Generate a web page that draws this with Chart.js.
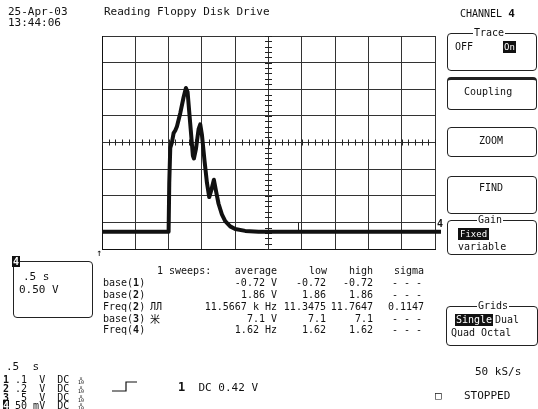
<!DOCTYPE html>
<html>
<head>
<meta charset="utf-8">
<script src="https://cdn.jsdelivr.net/npm/chart.js@4"></script>
<style>
  body { margin: 0; background: #fff; }
  #wrap { position: relative; width: 538px; height: 409px; overflow: hidden; background: #fff;
          font-family: "DejaVu Sans Mono", monospace; font-size: 11px; color: #111; }
  #scope { position: absolute; left: 0; top: 0; }
  .t { position: absolute; line-height: 12px; white-space: pre; }
  .m { font-size: 10px; }
  .r { text-align: right; }
  .box { position: absolute; border: 1px solid #222; border-radius: 4px; }
  .lbl { position: absolute; background: #fff; line-height: 12px; padding: 0 1px; font-size: 10px; }
  .inv { background: #111; color: #fff; }
  .b { font-weight: bold; }
  .x10 { position: absolute; font-size: 5px; line-height: 4px; text-align: center; }
</style>
</head>
<body>
<div id="wrap">
  <canvas id="scope" width="538" height="409"></canvas>

  <div class="t" style="left:8px;top:6px">25-Apr-03</div>
  <div class="t" style="left:8px;top:17px">13:44:06</div>
  <div class="t" style="left:104px;top:6px">Reading Floppy Disk Drive</div>
  <div class="t m" style="left:460px;top:8px">CHANNEL <span class="b" style="font-size:11px">4</span></div>

  <div class="box" style="left:447px;top:33px;width:88px;height:36px"></div>
  <div class="lbl" style="left:473px;top:27px">Trace</div>
  <div class="t m" style="left:455px;top:41px">OFF</div>
  <div class="t inv" style="left:503px;top:41px;font-size:9px;padding:0 1px">On</div>

  <div class="box" style="left:447px;top:77px;width:88px;height:29px;border-top-width:3px"></div>
  <div class="t m" style="left:464px;top:86px">Coupling</div>

  <div class="box" style="left:447px;top:127px;width:88px;height:28px"></div>
  <div class="t m" style="left:479px;top:135px">ZOOM</div>

  <div class="box" style="left:447px;top:176px;width:88px;height:36px"></div>
  <div class="t m" style="left:479px;top:182px">FIND</div>

  <div class="box" style="left:447px;top:220px;width:88px;height:33px"></div>
  <div class="lbl" style="left:477px;top:214px">Gain</div>
  <div class="t inv" style="left:458px;top:228px;font-size:9px;padding:0 2px">Fixed</div>
  <div class="t m" style="left:458px;top:241px">variable</div>

  <div class="t b" style="left:437px;top:218px;font-size:10px">4</div>
  <div class="t" style="left:96px;top:247px;font-size:10px">↑</div>

  <div class="box" style="left:13px;top:261px;width:78px;height:55px"></div>
  <div class="t inv b" style="left:12px;top:256px;font-size:10px;line-height:11px;padding:0 1px">4</div>
  <div class="t" style="left:23px;top:271px">.5 s</div>
  <div class="t" style="left:19px;top:284px">0.50 V</div>

  <div class="t m" style="left:157px;top:265px">1 sweeps:</div>
  <div class="t m r" style="right:261px;top:265px">average</div>
  <div class="t m r" style="right:211px;top:265px">low</div>
  <div class="t m r" style="right:165px;top:265px">high</div>
  <div class="t m r" style="right:114px;top:265px">sigma</div>

  <div class="t m" style="left:103px;top:277px">base(<span class="b">1</span>)</div>
  <div class="t m" style="left:103px;top:289px">base(<span class="b">2</span>)</div>
  <div class="t m" style="left:103px;top:301px">Freq(<span class="b">2</span>)</div>
  <div class="t m" style="left:103px;top:313px">base(<span class="b">3</span>)</div>
  <div class="t m" style="left:103px;top:324px">Freq(<span class="b">4</span>)</div>
  <div class="t" style="left:150px;top:301px;font-size:10px">ЛЛ</div>
  <div class="t" style="left:150px;top:313px;font-family:'Noto Sans CJK SC';font-size:10px">米</div>

  <div class="t m r" style="right:261px;top:277px">-0.72 V</div>
  <div class="t m r" style="right:261px;top:289px">1.86 V</div>
  <div class="t m r" style="right:261px;top:301px">11.5667 k Hz</div>
  <div class="t m r" style="right:261px;top:313px">7.1 V</div>
  <div class="t m r" style="right:261px;top:324px">1.62 Hz</div>

  <div class="t m r" style="right:212px;top:277px">-0.72</div>
  <div class="t m r" style="right:212px;top:289px">1.86</div>
  <div class="t m r" style="right:212px;top:301px">11.3475</div>
  <div class="t m r" style="right:212px;top:313px">7.1</div>
  <div class="t m r" style="right:212px;top:324px">1.62</div>

  <div class="t m r" style="right:165px;top:277px">-0.72</div>
  <div class="t m r" style="right:165px;top:289px">1.86</div>
  <div class="t m r" style="right:165px;top:301px">11.7647</div>
  <div class="t m r" style="right:165px;top:313px">7.1</div>
  <div class="t m r" style="right:165px;top:324px">1.62</div>

  <div class="t m r" style="right:116px;top:277px">- - -</div>
  <div class="t m r" style="right:116px;top:289px">- - -</div>
  <div class="t m r" style="right:114px;top:301px">0.1147</div>
  <div class="t m r" style="right:116px;top:313px">- - -</div>
  <div class="t m r" style="right:116px;top:324px">- - -</div>

  <div class="box" style="left:446px;top:306px;width:90px;height:38px"></div>
  <div class="lbl" style="left:477px;top:300px">Grids</div>
  <div class="t m inv" style="left:455px;top:314px;padding:0 1px">Single</div>
  <div class="t m" style="left:495px;top:314px">Dual</div>
  <div class="t m" style="left:451px;top:327px">Quad Octal</div>

  <div class="t" style="left:475px;top:366px">50 kS/s</div>
  <div class="t" style="left:435px;top:390px">□</div>
  <div class="t" style="left:464px;top:390px">STOPPED</div>

  <div class="t" style="left:6px;top:361px">.5  s</div>
  <div class="t m" style="left:3px;top:375px;line-height:10px"><span class="b">1</span> .1  V  DC</div>
  <div class="t m" style="left:3px;top:384px;line-height:10px"><span class="b">2</span> .2  V  DC</div>
  <div class="t m" style="left:3px;top:393px;line-height:10px"><span class="b">3</span>  5  V  DC</div>
  <div class="t m" style="left:3px;top:401px;line-height:10px"><span class="inv b">4</span> 50 mV  DC</div>
  <div class="x10" style="left:78px;top:376px">x<br>10</div>
  <div class="x10" style="left:78px;top:385px">x<br>10</div>
  <div class="x10" style="left:78px;top:394px">x<br>10</div>
  <div class="x10" style="left:78px;top:402px">x<br>10</div>

  <svg style="position:absolute;left:0;top:0" width="538" height="409">
    <polyline points="112,391 126,391 126,382 137,382" fill="none" stroke="#111" stroke-width="1.2"/>
  </svg>
  <div class="t" style="left:178px;top:381px"><span class="b" style="font-size:12px">1</span>  DC 0.42 V</div>
</div>

<script>
// channel 4 trace: time in s (0.5 s/div), level in V (0.5 V/div)
const traceTime = [0, 1.0, 1.01, 1.025, 1.05, 1.075, 1.1, 1.125, 1.175, 1.225, 1.26, 1.285,
  1.325, 1.365, 1.38, 1.41, 1.45, 1.475, 1.5, 1.54, 1.575, 1.61, 1.64, 1.68, 1.71, 1.75,
  1.8, 1.85, 1.925, 2.0, 2.15, 2.35, 5.09];
const traceVolts = [-1.675, -1.675, -0.75, -0.1, 0.0, 0.175, 0.225, 0.3, 0.55, 0.85, 1.025, 0.95,
  0.35, -0.25, -0.3, -0.125, 0.25, 0.34, 0.15, -0.35, -0.75, -1.025, -0.9, -0.7, -0.9, -1.15,
  -1.35, -1.475, -1.575, -1.625, -1.66, -1.675, -1.675];

const timePerDiv = 0.5;
const voltsPerDiv = 0.5;
const timeRange = [0, 5];
const voltRange = [-2, 2];
const cursorMark = { x: 2.94, from: -1.5, to: -1.65 };

const scopeTicks = {
  id: "scopeTicks",
  beforeDatasetsDraw(chart) {
    const { ctx, scales } = chart;
    const x = scales.x;
    const y = scales.y;
    const cx = x.getPixelForValue((timeRange[0] + timeRange[1]) / 2);
    const cy = y.getPixelForValue(0);
    ctx.save();
    ctx.strokeStyle = "#222";
    ctx.lineWidth = 1;
    ctx.beginPath();
    for (let t = timeRange[0]; t <= timeRange[1] + 1e-9; t += timePerDiv / 5) {
      const px = Math.round(x.getPixelForValue(t)) + 0.5;
      ctx.moveTo(px, cy - 3);
      ctx.lineTo(px, cy + 3);
    }
    for (let v = voltRange[0]; v <= voltRange[1] + 1e-9; v += voltsPerDiv / 5) {
      const py = Math.round(y.getPixelForValue(v)) + 0.5;
      ctx.moveTo(cx - 3.5, py);
      ctx.lineTo(cx + 3.5, py);
    }
    const mx = Math.round(x.getPixelForValue(cursorMark.x)) + 0.5;
    ctx.moveTo(mx, y.getPixelForValue(cursorMark.from));
    ctx.lineTo(mx, y.getPixelForValue(cursorMark.to));
    ctx.stroke();
    ctx.restore();
  }
};

const canvas = document.getElementById("scope");

new Chart(canvas, {
  type: "line",
  data: {
    datasets: [
      {
        data: traceTime.map((t, i) => ({ x: t, y: traceVolts[i] })),
        borderColor: "#111",
        borderWidth: 4,
        borderJoinStyle: "round",
        pointRadius: 0,
        tension: 0,
        clip: false
      }
    ]
  },
  options: {
    responsive: false,
    animation: false,
    devicePixelRatio: 1,
    layout: { padding: { left: 102, right: 103, top: 36, bottom: 160 } },
    plugins: { legend: { display: false }, tooltip: { enabled: false } },
    scales: {
      x: {
        type: "linear",
        min: timeRange[0],
        max: timeRange[1],
        ticks: { display: false, stepSize: timePerDiv },
        grid: { color: "#333", lineWidth: 1, drawTicks: false },
        border: { color: "#111", width: 1 }
      },
      y: {
        min: voltRange[0],
        max: voltRange[1],
        ticks: { display: false, stepSize: voltsPerDiv },
        grid: { color: "#333", lineWidth: 1, drawTicks: false },
        border: { color: "#111", width: 1 }
      }
    }
  },
  plugins: [scopeTicks]
});
</script>
</body>
</html>
